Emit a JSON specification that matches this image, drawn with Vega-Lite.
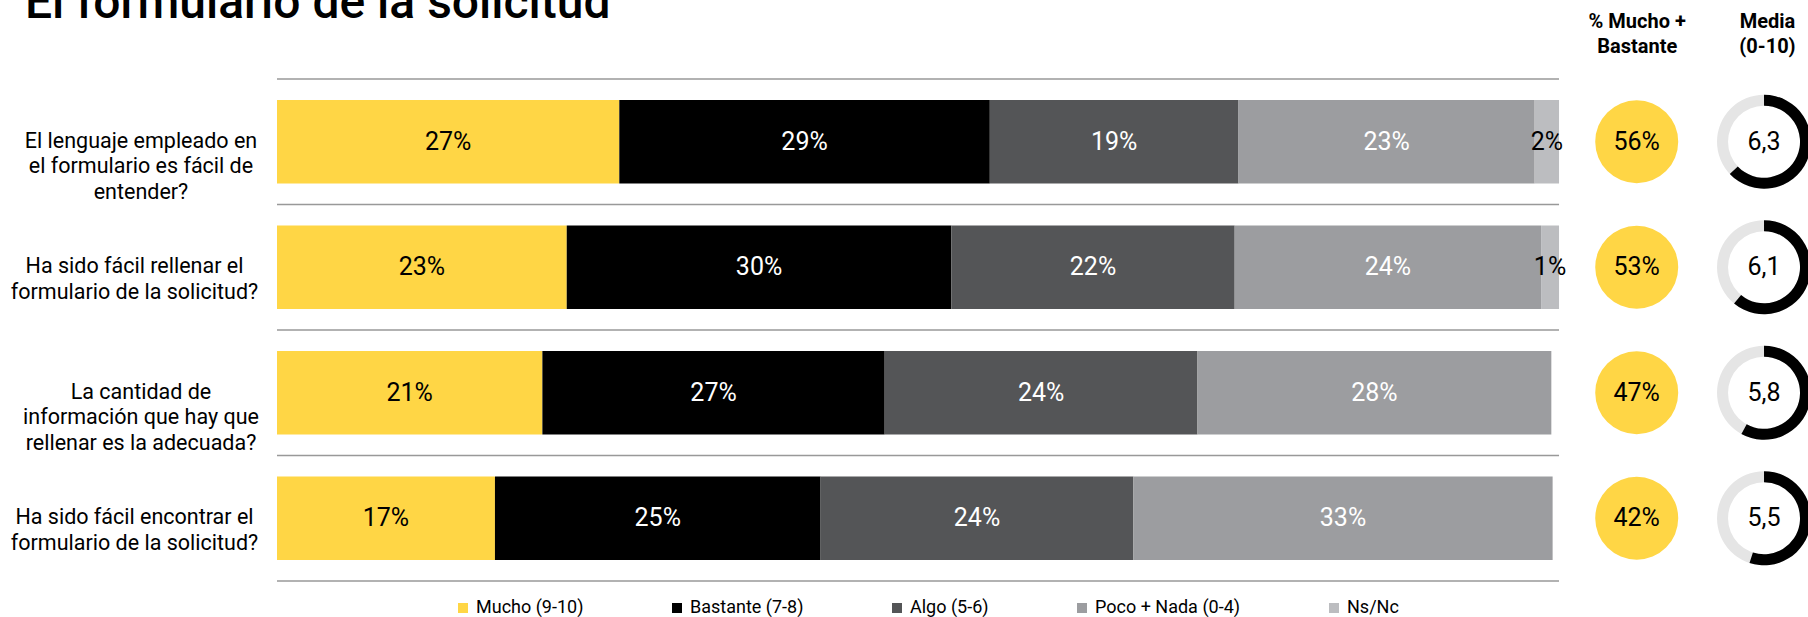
{
  "$schema": "https://vega.github.io/schema/vega-lite/v6.json",
  "width": 1531,
  "height": 502,
  "autosize": {"type": "none"},
  "padding": {"left": 277, "top": 79, "right": 0, "bottom": 36},
  "background": "white",
  "title": {
    "text": "El formulario de la solicitud",
    "anchor": "start",
    "frame": "group",
    "dx": -252,
    "offset": -55,
    "baseline": "alphabetic",
    "fontSize": 48,
    "fontWeight": 500,
    "font": "Roboto",
    "color": "black"
  },
  "config": {
    "font": "Roboto",
    "view": {"stroke": null},
    "locale": {
      "number": {"decimal": ",", "thousands": ".", "grouping": [3], "currency": ["", " €"]}
    },
    "axisTop": {
      "title": null,
      "domain": false,
      "ticks": false,
      "tickSize": 0,
      "grid": false,
      "labelFontSize": 20,
      "labelFontWeight": "bold",
      "labelLineHeight": 25,
      "labelPadding": 48,
      "labelBaseline": "bottom",
      "labelAlign": "center",
      "labelColor": "black",
      "labelFlush": false,
      "labelOverlap": false,
      "labelBound": false,
      "labelLimit": 0
    }
  },
  "datasets": {
    "seg": [
      {"q": "El lenguaje empleado en\nel formulario es fácil de\nentender?", "cat": "Mucho (9-10)", "orden": 1, "p": 0.267},
      {"q": "El lenguaje empleado en\nel formulario es fácil de\nentender?", "cat": "Bastante (7-8)", "orden": 2, "p": 0.289},
      {"q": "El lenguaje empleado en\nel formulario es fácil de\nentender?", "cat": "Algo (5-6)", "orden": 3, "p": 0.194},
      {"q": "El lenguaje empleado en\nel formulario es fácil de\nentender?", "cat": "Poco + Nada (0-4)", "orden": 4, "p": 0.231},
      {"q": "El lenguaje empleado en\nel formulario es fácil de\nentender?", "cat": "Ns/Nc", "orden": 5, "p": 0.019},
      {"q": "Ha sido fácil rellenar el\nformulario de la solicitud?", "cat": "Mucho (9-10)", "orden": 1, "p": 0.226},
      {"q": "Ha sido fácil rellenar el\nformulario de la solicitud?", "cat": "Bastante (7-8)", "orden": 2, "p": 0.300},
      {"q": "Ha sido fácil rellenar el\nformulario de la solicitud?", "cat": "Algo (5-6)", "orden": 3, "p": 0.221},
      {"q": "Ha sido fácil rellenar el\nformulario de la solicitud?", "cat": "Poco + Nada (0-4)", "orden": 4, "p": 0.239},
      {"q": "Ha sido fácil rellenar el\nformulario de la solicitud?", "cat": "Ns/Nc", "orden": 5, "p": 0.014},
      {"q": "La cantidad de\ninformación que hay que\nrellenar es la adecuada?", "cat": "Mucho (9-10)", "orden": 1, "p": 0.207},
      {"q": "La cantidad de\ninformación que hay que\nrellenar es la adecuada?", "cat": "Bastante (7-8)", "orden": 2, "p": 0.267},
      {"q": "La cantidad de\ninformación que hay que\nrellenar es la adecuada?", "cat": "Algo (5-6)", "orden": 3, "p": 0.244},
      {"q": "La cantidad de\ninformación que hay que\nrellenar es la adecuada?", "cat": "Poco + Nada (0-4)", "orden": 4, "p": 0.276},
      {"q": "Ha sido fácil encontrar el\nformulario de la solicitud?", "cat": "Mucho (9-10)", "orden": 1, "p": 0.170},
      {"q": "Ha sido fácil encontrar el\nformulario de la solicitud?", "cat": "Bastante (7-8)", "orden": 2, "p": 0.254},
      {"q": "Ha sido fácil encontrar el\nformulario de la solicitud?", "cat": "Algo (5-6)", "orden": 3, "p": 0.244},
      {"q": "Ha sido fácil encontrar el\nformulario de la solicitud?", "cat": "Poco + Nada (0-4)", "orden": 4, "p": 0.327}
    ],
    "res": [
      {"q": "El lenguaje empleado en\nel formulario es fácil de\nentender?", "mb": 0.56, "media": 6.3, "first": true},
      {"q": "Ha sido fácil rellenar el\nformulario de la solicitud?", "mb": 0.53, "media": 6.1, "first": false},
      {"q": "La cantidad de\ninformación que hay que\nrellenar es la adecuada?", "mb": 0.47, "media": 5.8, "first": false},
      {"q": "Ha sido fácil encontrar el\nformulario de la solicitud?", "mb": 0.42, "media": 5.5, "first": false}
    ]
  },
  "encoding": {
    "y": {
      "field": "q",
      "type": "nominal",
      "sort": [
        "El lenguaje empleado en\nel formulario es fácil de\nentender?",
        "Ha sido fácil rellenar el\nformulario de la solicitud?",
        "La cantidad de\ninformación que hay que\nrellenar es la adecuada?",
        "Ha sido fácil encontrar el\nformulario de la solicitud?"
      ],
      "scale": {"paddingInner": 0.335, "paddingOuter": 0.1675},
      "axis": {
        "title": null,
        "domain": false,
        "ticks": false,
        "tickSize": 0,
        "labelPadding": {"condition": {"test": "indexof(datum.value, 'Ha sido') == 0", "value": 143}, "value": 136.5},
        "labelAlign": "center",
        "labelBaseline": "middle",
        "labelExpr": "split(datum.label, '\\n')",
        "labelFontSize": 21.5,
        "labelLineHeight": 25.6,
        "labelColor": "black",
        "labelLimit": 0,
        "labelFont": "Roboto"
      }
    }
  },
  "layer": [
    {
      "data": {"name": "seg"},
      "mark": {"type": "bar"},
      "encoding": {
        "x": {
          "field": "p",
          "type": "quantitative",
          "stack": "zero",
          "scale": {"domain": [0, 1.1942], "nice": false, "zero": true},
          "axis": {"orient": "top", "values": [1.0606, 1.1622], "labelExpr": "datum.value < 1.1 ? ['% Mucho +', 'Bastante'] : ['Media', '(0-10)']"}
        },
        "color": {
          "field": "cat",
          "type": "nominal",
          "scale": {
            "domain": ["Mucho (9-10)", "Bastante (7-8)", "Algo (5-6)", "Poco + Nada (0-4)", "Ns/Nc"],
            "range": ["#FFD645", "#000000", "#545557", "#9C9DA0", "#BCBDC0"]
          },
          "legend": {
            "orient": "none",
            "legendX": 177,
            "legendY": 520,
            "direction": "horizontal",
            "title": null,
            "symbolType": "square",
            "symbolSize": 100,
            "symbolStrokeWidth": 0,
            "labelFontSize": 18,
            "labelColor": "black",
            "labelFont": "Roboto",
            "labelLimit": 0,
            "columnPadding": 84,
            "padding": 0
          }
        },
        "order": {"field": "orden", "type": "quantitative"}
      }
    },
    {
      "data": {"name": "res"},
      "mark": {"type": "rule", "color": "#999999", "strokeWidth": 1.5},
      "encoding": {
        "y": {
          "field": "q", "type": "nominal", "bandPosition": 1.2519,
          "sort": [
            "El lenguaje empleado en\nel formulario es fácil de\nentender?",
            "Ha sido fácil rellenar el\nformulario de la solicitud?",
            "La cantidad de\ninformación que hay que\nrellenar es la adecuada?",
            "Ha sido fácil encontrar el\nformulario de la solicitud?"
          ]
        },
        "x": {"datum": 0, "type": "quantitative", "axis": {"orient": "top", "values": [1.0606, 1.1622], "labelExpr": "datum.value < 1.1 ? ['% Mucho +', 'Bastante'] : ['Media', '(0-10)']"}},
        "x2": {"datum": 1}
      }
    },
    {
      "data": {"name": "res"},
      "transform": [{"filter": "datum.first"}],
      "mark": {"type": "rule", "color": "#999999", "strokeWidth": 1.5},
      "encoding": {
        "y": {
          "field": "q", "type": "nominal", "bandPosition": -0.2519,
          "sort": [
            "El lenguaje empleado en\nel formulario es fácil de\nentender?",
            "Ha sido fácil rellenar el\nformulario de la solicitud?",
            "La cantidad de\ninformación que hay que\nrellenar es la adecuada?",
            "Ha sido fácil encontrar el\nformulario de la solicitud?"
          ]
        },
        "x": {"datum": 0, "type": "quantitative", "axis": {"orient": "top", "values": [1.0606, 1.1622], "labelExpr": "datum.value < 1.1 ? ['% Mucho +', 'Bastante'] : ['Media', '(0-10)']"}},
        "x2": {"datum": 1}
      }
    },
    {
      "data": {"name": "seg"},
      "mark": {"type": "text", "fontSize": 25, "baseline": "middle", "align": "center"},
      "encoding": {
        "x": {"field": "p", "type": "quantitative", "stack": "zero", "bandPosition": 0.5, "axis": {"orient": "top", "values": [1.0606, 1.1622], "labelExpr": "datum.value < 1.1 ? ['% Mucho +', 'Bastante'] : ['Media', '(0-10)']"}},
        "detail": {"field": "cat"},
        "order": {"field": "orden", "type": "quantitative"},
        "text": {"field": "p", "format": ".0%"},
        "color": {
          "condition": {"test": "datum.cat == 'Mucho (9-10)' || datum.cat == 'Ns/Nc'", "value": "black"},
          "value": "white"
        }
      }
    },
    {
      "data": {"name": "res"},
      "mark": {"type": "circle", "size": 6889, "color": "#FFD645", "opacity": 1},
      "encoding": {
        "x": {"datum": 1.0606, "type": "quantitative", "axis": {"orient": "top", "values": [1.0606, 1.1622], "labelExpr": "datum.value < 1.1 ? ['% Mucho +', 'Bastante'] : ['Media', '(0-10)']"}}
      }
    },
    {
      "data": {"name": "res"},
      "mark": {"type": "text", "fontSize": 25, "baseline": "middle", "align": "center", "color": "black"},
      "encoding": {
        "x": {"datum": 1.0606, "type": "quantitative", "axis": {"orient": "top", "values": [1.0606, 1.1622], "labelExpr": "datum.value < 1.1 ? ['% Mucho +', 'Bastante'] : ['Media', '(0-10)']"}},
        "text": {"field": "mb", "format": ".0%"}
      }
    },
    {
      "data": {"name": "res"},
      "mark": {"type": "arc", "radius": 47, "radius2": 36, "theta": 0, "theta2": 6.2832, "color": "#E5E5E5"},
      "encoding": {
        "x": {"datum": 1.1599, "type": "quantitative", "axis": {"orient": "top", "values": [1.0606, 1.1622], "labelExpr": "datum.value < 1.1 ? ['% Mucho +', 'Bastante'] : ['Media', '(0-10)']"}}
      }
    },
    {
      "data": {"name": "res"},
      "mark": {"type": "arc", "radius": 47, "radius2": 36, "color": "#000000"},
      "encoding": {
        "x": {"datum": 1.1599, "type": "quantitative", "axis": {"orient": "top", "values": [1.0606, 1.1622], "labelExpr": "datum.value < 1.1 ? ['% Mucho +', 'Bastante'] : ['Media', '(0-10)']"}},
        "theta": {"field": "media", "type": "quantitative", "stack": null, "scale": {"domain": [0, 10], "range": [0, 6.2832]}},
        "theta2": {"datum": 0}
      }
    },
    {
      "data": {"name": "res"},
      "mark": {"type": "text", "fontSize": 25, "baseline": "middle", "align": "center", "color": "black"},
      "encoding": {
        "x": {"datum": 1.1599, "type": "quantitative", "axis": {"orient": "top", "values": [1.0606, 1.1622], "labelExpr": "datum.value < 1.1 ? ['% Mucho +', 'Bastante'] : ['Media', '(0-10)']"}},
        "text": {"field": "media", "format": ".1f"}
      }
    }
  ]
}
